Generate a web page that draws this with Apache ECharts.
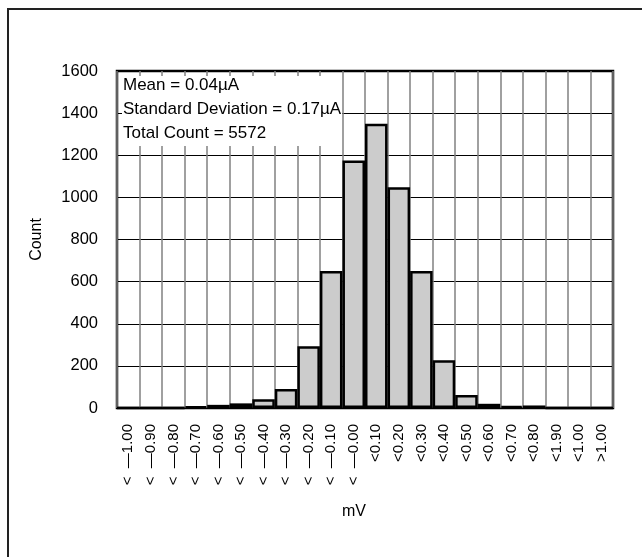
<!DOCTYPE html>
<html>
<head>
<meta charset="utf-8">
<script src="https://cdn.jsdelivr.net/npm/echarts@6/dist/echarts.min.js"></script>
<style>
  html, body { margin: 0; padding: 0; background: #fff; }
  #chart { width: 642px; height: 557px; }
</style>
</head>
<body>
<div id="chart"></div>
<script>
// bins (mV) and counts
var binLabels = [
  '<  \u20141.00', '<  \u20140.90', '<  \u20140.80', '<  \u20140.70', '<  \u20140.60', '<  \u20140.50',
  '<  \u20140.40', '<  \u20140.30', '<  \u20140.20', '<  \u20140.10', '<  \u20140.00',
  '<0.10', '<0.20', '<0.30', '<0.40', '<0.50', '<0.60', '<0.70', '<0.80',
  '<1.90', '<1.00', '>1.00'
]
var counts = [0, 0, 0, 8, 15, 22, 42, 90, 293, 650, 1175, 1350, 1048, 650, 227, 62, 20, 10, 12, 0, 0, 0]
var statLines = ['Mean = 0.04\u00b5A', 'Standard Deviation = 0.17\u00b5A', 'Total Count = 5572']

var font = 'Liberation Sans, Arial, sans-serif'
var myChart = echarts.init(document.getElementById('chart'))

var option = {
  animation: false,
  backgroundColor: '#fff',
  grid: {
    left: 117, right: 29, top: 71, bottom: 149,
    show: true,
    borderColor: '#000',
    borderWidth: 2.5,
    backgroundColor: 'transparent'
  },
  xAxis: {
    type: 'category',
    data: binLabels,
    boundaryGap: true,
    name: 'mV',
    nameLocation: 'middle',
    nameGap: 96,
    nameTextStyle: { fontFamily: font, fontSize: 16, color: '#000', padding: [0, 22, 0, 0] },
    axisLine: { show: false },
    axisTick: { show: false },
    axisLabel: {
      interval: 0,
      rotate: 90,
      margin: 16,
      fontFamily: font,
      fontSize: 15,
      color: '#000'
    },
    splitLine: { show: true, interval: 0, lineStyle: { color: '#808080', width: 1.5 } }
  },
  yAxis: {
    type: 'value',
    min: 0,
    max: 1600,
    interval: 200,
    name: 'Count',
    nameLocation: 'middle',
    nameGap: 72,
    nameRotate: 90,
    nameTextStyle: { fontFamily: font, fontSize: 16, color: '#000' },
    axisLine: { show: false },
    axisTick: { show: false },
    axisLabel: {
      margin: 19,
      fontFamily: font,
      fontSize: 16.5,
      color: '#000',
      formatter: function (v) { return String(v) }
    },
    splitLine: { show: true, lineStyle: { color: '#000', width: 1 } }
  },
  series: [
    {
      type: 'bar',
      data: counts,
      barCategoryGap: 0,
      barGap: 0,
      itemStyle: {
        color: '#cccccc',
        borderColor: '#000',
        borderWidth: 2.5
      }
    }
  ],
  graphic: [
    {
      type: 'rect',
      z: 100,
      shape: { x: 8, y: 9, width: 700, height: 600 },
      style: { fill: 'none', stroke: '#222', lineWidth: 2 }
    },
    {
      type: 'rect',
      z: 100,
      shape: { x: 122, y: 76, width: 220, height: 70 },
      style: { fill: '#fff', stroke: 'none' }
    },
    {
      type: 'group',
      z: 101,
      left: 123,
      top: 77,
      children: statLines.map(function (t, i) {
        return {
          type: 'text',
          z: 101,
          x: 0,
          y: i * 23.7,
          style: { text: t, fontFamily: font, fontSize: 17, fill: '#000' }
        }
      })
    }
  ]
}

myChart.setOption(option)
</script>
</body>
</html>
